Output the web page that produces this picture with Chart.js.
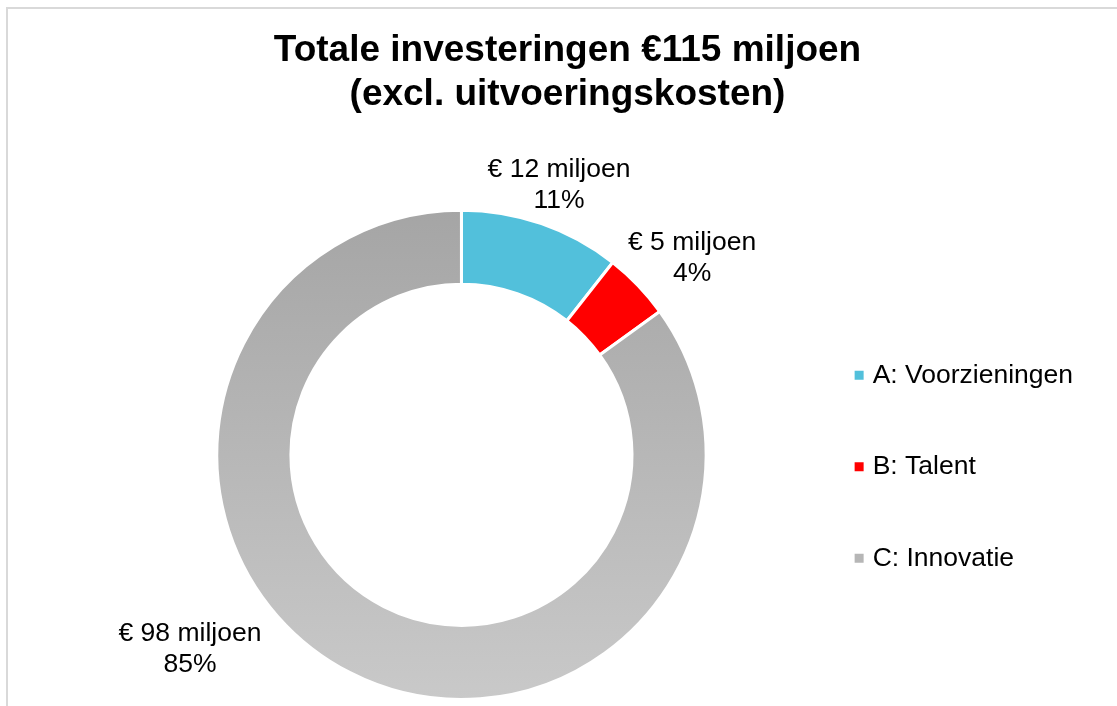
<!DOCTYPE html>
<html lang="nl">
<head>
<meta charset="utf-8">
<title>Totale investeringen</title>
<script src="https://cdn.jsdelivr.net/npm/chart.js@4.4.1/dist/chart.umd.min.js"></script>
<style>
  html, body { margin: 0; padding: 0; background: #fff; overflow: hidden; }
  #frame {
    position: absolute; left: 6px; top: 7px; width: 1300px; height: 900px;
    border-left: 2px solid #d9d9d9; border-top: 2px solid #d9d9d9;
  }
  #investChart { position: absolute; left: 0; top: 0; }
</style>
</head>
<body>
<div id="frame"></div>
<canvas id="investChart" width="1117" height="706"></canvas>
<script>
// Bedragen in miljoen euro
const categories = ['A: Voorzieningen', 'B: Talent', 'C: Innovatie'];
const amounts = [12.2, 5.1, 97.7];
const amountLabels = ['€ 12 miljoen', '€ 5 miljoen', '€ 98 miljoen'];
const shareLabels = ['11%', '4%', '85%'];
const titleLines = ['Totale investeringen €115 miljoen', '(excl. uitvoeringskosten)'];

const FONT = "'Liberation Sans', Arial, Helvetica, sans-serif";
Chart.defaults.font.family = FONT;
Chart.defaults.color = '#000';

const baseColors = ['#52c0db', '#ff0000', '#b6b6b6'];

// grijze ring: donker boven, licht onder
function innovatieFill(chart) {
    const area = chart.chartArea;
    if (!area) return baseColors[2];
    const g = chart.ctx.createLinearGradient(0, area.top, 0, area.bottom);
    g.addColorStop(0, '#a5a5a5');
    g.addColorStop(1, '#c9c9c9');
    return g;
}

// plek van de labels buiten de ring: [afstand x straal, extra draaiing in graden]
const labelPlacement = [[1.172, 0.8], [1.24, 3.3], [1.365, 27.3]];

const sliceLabels = {
    id: 'sliceLabels',
    afterDatasetsDraw(chart) {
        const ctx = chart.ctx;
        const arcs = chart.getDatasetMeta(0).data;
        ctx.save();
        ctx.font = '26.5px ' + FONT;
        ctx.fillStyle = '#000';
        ctx.textAlign = 'center';
        ctx.textBaseline = 'middle';
        arcs.forEach(function (arc, i) {
            const p = arc.getProps(['x', 'y', 'startAngle', 'endAngle', 'outerRadius'], true);
            const a = (p.startAngle + p.endAngle) / 2 + labelPlacement[i][1] * Math.PI / 180;
            const r = p.outerRadius * labelPlacement[i][0];
            const cx = p.x + Math.cos(a) * r;
            const cy = p.y + Math.sin(a) * r;
            ctx.fillText(amountLabels[i], cx, cy - 15.5);
            ctx.fillText(shareLabels[i], cx, cy + 15.5);
        });
        ctx.restore();
    }
};

// lege ruimte links van de ring, zodat de ring links van het midden van de titel staat
const leftGap = {
    id: 'leftGap',
    beforeInit(chart) {
        Chart.layouts.addBox(chart, {
            position: 'left',
            weight: 0,
            fullSize: false,
            options: { display: false }, // niet meetellen bij de max. breedte van de legenda
            update(maxWidth, maxHeight) {
                this.width = 77;
                this.height = maxHeight;
            },
            isHorizontal() { return false; },
            draw() {}
        });
    }
};

const ctxInvest = document.getElementById('investChart');
new Chart(ctxInvest, {
    type: 'doughnut',
    data: {
        labels: categories,
        datasets: [{
            data: amounts,
            backgroundColor: function (c) {
                return c.dataIndex === 2 ? innovatieFill(c.chart) : baseColors[c.dataIndex];
            },
            borderColor: '#ffffff',
            borderWidth: 3,
            hoverOffset: 0
        }]
    },
    options: {
        responsive: false,
        animation: false,
        devicePixelRatio: 1,
        cutout: '69.7%',
        layout: {
            padding: { left: 52, right: 34, top: 0, bottom: 5 }
        },
        plugins: {
            title: {
                display: true,
                text: titleLines,
                color: '#000',
                font: { size: 37, weight: 'bold', lineHeight: 1.19 },
                padding: { top: 29, bottom: 91.6 }
            },
            legend: {
                position: 'right',
                fullSize: false,
                title: { display: true, text: '', font: { size: 2 }, padding: { top: 0, bottom: 21.6 } },
                labels: {
                    usePointStyle: true,
                    pointStyle: 'rect',
                    boxWidth: 0.5,
                    boxHeight: 9,
                    padding: 65,
                    color: '#000',
                    font: { size: 26.5 },
                    generateLabels: function (chart) {
                        const items = Chart.overrides.doughnut.plugins.legend.labels.generateLabels(chart);
                        items.forEach(function (item, i) {
                            item.fillStyle = baseColors[i];
                            item.strokeStyle = baseColors[i];
                            item.lineWidth = 0;
                        });
                        return items;
                    }
                }
            },
            tooltip: { enabled: false }
        }
    },
    plugins: [sliceLabels, leftGap]
});
</script>
</body>
</html>
